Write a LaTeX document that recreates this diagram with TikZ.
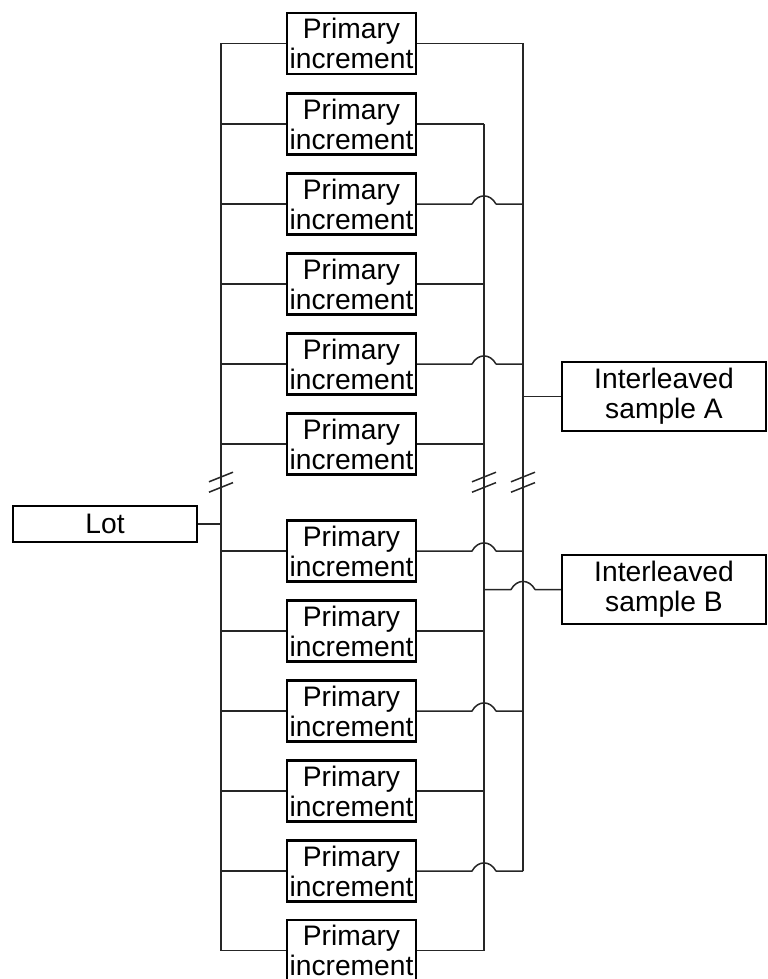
\documentclass[tikz,border=0pt]{standalone}
\usepackage{fontspec}
\setmainfont{Liberation Sans}
\providecommand{\lotLineColor}{black!85}
\providecommand{\lotBoxLineWidth}{1.2pt}
\providecommand{\lotLineWidth}{0.75pt}
% hop over a crossing bus at the given point
\newcommand{\hopat}[1]{-- ([xshift=-6pt]#1) .. controls ([xshift=-3pt,yshift=5.4pt]#1) and ([xshift=3pt,yshift=5.4pt]#1) .. ([xshift=6pt]#1)}
% two break slashes across a bus
\newcommand{\breakmark}[1]{%
  \draw ([xshift=-6pt,yshift=-2.4pt]#1) -- ([xshift=6pt,yshift=2.4pt]#1);
  \draw ([xshift=-6pt,yshift=-7.6pt]#1) -- ([xshift=6pt,yshift=-2.8pt]#1);}
\tikzset{
  incbox/.style={draw, line width=\lotBoxLineWidth, minimum width=64.5pt, minimum height=30.5pt, inner sep=0pt, align=center, font=\fontsize{14.1}{15}\selectfont},
  lotbox/.style={incbox, minimum width=92pt, minimum height=18pt},
  sampbox/.style={incbox, minimum width=102pt, minimum height=34.5pt},
  wire/.style={draw=\lotLineColor, line width=\lotLineWidth, line join=round}
}
\begin{document}
\begin{tikzpicture}[x=0.5pt, y=-0.5pt]
\useasboundingbox (0,0) rectangle (767,979);
% Buses
\coordinate (busL) at (221,0);
\coordinate (busB) at (484,0);
\coordinate (busA) at (523,0);
% Lot and samples
\node[lotbox] (lot) at (105,524) {Lot};
\node[sampbox] (sampA) at (664,396.5) {Interleaved\\sample A};
\node[sampbox] (sampB) at (664,589.5) {Interleaved\\sample B};
% Primary increments
\node[incbox] (pi1) at (351.5,43.5) {Primary\\increment};
\node[incbox] (pi2) at (351.5,124) {Primary\\increment};
\node[incbox] (pi3) at (351.5,204) {Primary\\increment};
\node[incbox] (pi4) at (351.5,284) {Primary\\increment};
\node[incbox] (pi5) at (351.5,364) {Primary\\increment};
\node[incbox] (pi6) at (351.5,444) {Primary\\increment};
\node[incbox] (pi7) at (351.5,551) {Primary\\increment};
\node[incbox] (pi8) at (351.5,631) {Primary\\increment};
\node[incbox] (pi9) at (351.5,711) {Primary\\increment};
\node[incbox] (pi10) at (351.5,791) {Primary\\increment};
\node[incbox] (pi11) at (351.5,871) {Primary\\increment};
\node[incbox] (pi12) at (351.5,950.5) {Primary\\increment};
\begin{scope}[wire]
  % Left bus from the lot
  \draw (pi1.west -| busL) -- (pi12.west -| busL);
  \draw (lot.east) -- (lot.east -| busL);
  \draw (pi1.west -| busL) -- (pi1.west);
  \draw (pi2.west -| busL) -- (pi2.west);
  \draw (pi3.west -| busL) -- (pi3.west);
  \draw (pi4.west -| busL) -- (pi4.west);
  \draw (pi5.west -| busL) -- (pi5.west);
  \draw (pi6.west -| busL) -- (pi6.west);
  \draw (pi7.west -| busL) -- (pi7.west);
  \draw (pi8.west -| busL) -- (pi8.west);
  \draw (pi9.west -| busL) -- (pi9.west);
  \draw (pi10.west -| busL) -- (pi10.west);
  \draw (pi11.west -| busL) -- (pi11.west);
  \draw (pi12.west -| busL) -- (pi12.west);
  % Bus A (odd increments)
  \draw (pi1.east -| busA) -- (pi11.east -| busA);
  \draw (pi1.east) -- (pi1.east -| busA);
  \draw (pi3.east) \hopat{pi3.east -| busB} -- (pi3.east -| busA);
  \draw (pi5.east) \hopat{pi5.east -| busB} -- (pi5.east -| busA);
  \draw (pi7.east) \hopat{pi7.east -| busB} -- (pi7.east -| busA);
  \draw (pi9.east) \hopat{pi9.east -| busB} -- (pi9.east -| busA);
  \draw (pi11.east) \hopat{pi11.east -| busB} -- (pi11.east -| busA);
  \draw (sampA.west -| busA) -- (sampA.west);
  % Bus B (even increments)
  \draw (pi2.east -| busB) -- (pi12.east -| busB);
  \draw (pi2.east) -- (pi2.east -| busB);
  \draw (pi4.east) -- (pi4.east -| busB);
  \draw (pi6.east) -- (pi6.east -| busB);
  \draw (pi8.east) -- (pi8.east -| busB);
  \draw (pi10.east) -- (pi10.east -| busB);
  \draw (pi12.east) -- (pi12.east -| busB);
  \draw (sampB.west -| busB) \hopat{sampB.west -| busA} -- (sampB.west);
  % Breaks
  \coordinate (brkL) at (221,477);
  \coordinate (brkB) at (484,477);
  \coordinate (brkA) at (523,477);
  \breakmark{brkL}
  \breakmark{brkB}
  \breakmark{brkA}
\end{scope}
\end{tikzpicture}
\end{document}
